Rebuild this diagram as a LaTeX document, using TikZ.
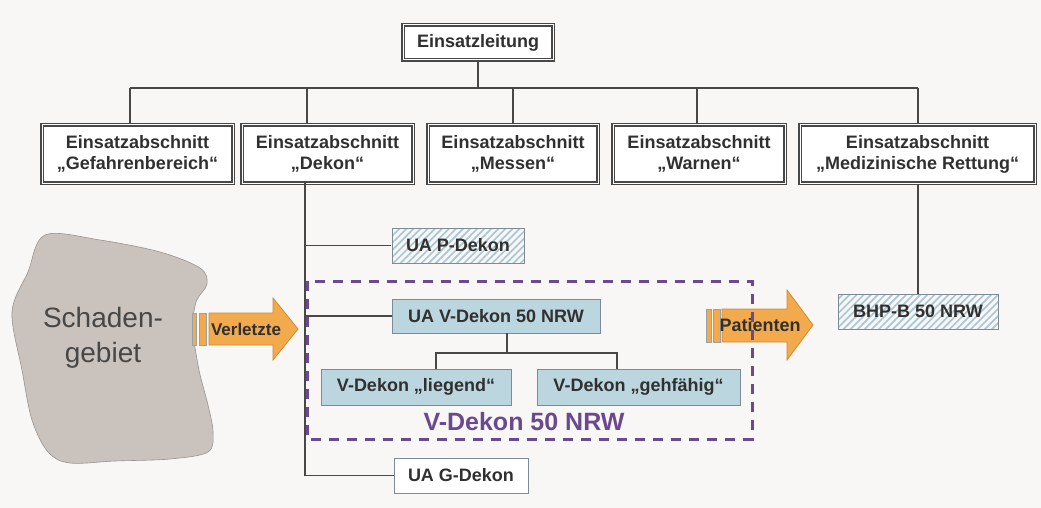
\documentclass[tikz,border=0pt]{standalone}
\usepackage{fontspec}
\setmainfont{Liberation Sans}
\usetikzlibrary{patterns.meta,shadows}
\definecolor{bg}{HTML}{F8F7F5}
\definecolor{boxline}{HTML}{484848}
\definecolor{txt}{HTML}{303030}
\definecolor{hatch}{HTML}{A9C7D5}
\definecolor{vfill}{HTML}{BCD6DF}
\definecolor{vline}{HTML}{7C8C94}
\definecolor{purp}{HTML}{6A4A8F}
\definecolor{orng}{HTML}{F3AA4C}
\definecolor{orngline}{HTML}{CF8A2E}
\definecolor{blobfill}{HTML}{C9C2BD}
\definecolor{blobline}{HTML}{9A938E}
\tikzset{
  boxfont/.style={font=\fontsize{18}{21}\selectfont\bfseries, text=txt, align=center},
  headbox/.style={boxfont, draw=boxline, double=white, double distance=1pt, line width=1.2pt,
    fill=white, inner sep=0pt, drop shadow={shadow xshift=2pt, shadow yshift=-2pt, fill=gray!50, opacity=0.7}},
  hatchbox/.style={boxfont, draw=vline, line width=0.8pt, inner sep=0pt,
    pattern={Lines[angle=45, distance=5pt, line width=1.7pt]}, pattern color=hatch},
  vbox/.style={boxfont, draw=vline, line width=0.8pt, fill=vfill, inner sep=0pt},
  plainbox/.style={boxfont, draw=vline, line width=0.8pt, fill=white, inner sep=0pt},
  link/.style={draw=boxline, line width=1.5pt},
  arrowbody/.style={fill=orng, draw=orngline, line width=0.8pt},
  tailbar/.style={fill=orng, draw=vline!80, line width=0.6pt},
  arrowtext/.style={font=\fontsize{17}{20}\selectfont\bfseries, text=txt},
}
\begin{document}
\begin{tikzpicture}[x=1pt, y=-1pt]
  % canvas
  \fill[bg] (0,0) rectangle (1041,508);
  \useasboundingbox (0,0) rectangle (1041,508);

  % damage area
  \draw[fill=blobfill, draw=blobline, line width=0.6pt]
    plot[smooth cycle, tension=0.55] coordinates {
      (45,235) (100,240) (160,252) (200,268) (207,284) (196,302) (193,330)
      (199,370) (208,405) (213,432) (208,452) (170,459) (115,461) (70,463)
      (48,452) (32,420) (22,370) (12,312) (28,272)};
  \node[font=\fontsize{28}{35}\selectfont, text=black!72, align=center] (sg) at (103,338) {Schaden-\\gebiet};

  % arrow "Verletzte"
  \draw[tailbar] (192,313) rectangle (196,345);
  \draw[tailbar] (199,313) rectangle (206,345);
  \draw[arrowbody] (209,313) -- (273,313) -- (273,298) -- (298,329) -- (273,360) -- (273,345) -- (209,345) -- cycle;
  \node[arrowtext] (verl) at (246,329) {Verletzte};

  % command level
  \node[headbox, minimum width=150pt, minimum height=35pt] (el) at (478,42.5) {Einsatzleitung};

  % sections
  \node[headbox, minimum width=191pt, minimum height=58pt] (gef) at (137.5,154) {Einsatzabschnitt\\„Gefahrenbereich“};
  \node[headbox, minimum width=171pt, minimum height=58pt] (dek) at (327.5,154) {Einsatzabschnitt\\„Dekon“};
  \node[headbox, minimum width=170pt, minimum height=58pt] (mes) at (513,154) {Einsatzabschnitt\\„Messen“};
  \node[headbox, minimum width=172pt, minimum height=58pt] (war) at (699,154) {Einsatzabschnitt\\„Warnen“};
  \node[headbox, minimum width=235pt, minimum height=58pt] (med) at (917.5,154) {Einsatzabschnitt\\„Medizinische Rettung“};

  % bus
  \coordinate (b1) at (130,88);
  \coordinate (b2) at (307,88);
  \coordinate (b3) at (513,88);
  \coordinate (b4) at (697,88);
  \coordinate (b5) at (918,88);
  \draw[link] (el.south) -- (el.south |- b1);
  \draw[link] (b1) -- (b5);
  \foreach \b/\n in {b1/gef, b2/dek, b3/mes, b4/war, b5/med}
    \draw[link] (\b) -- (\b |- \n.north);

  % sub-units of Dekon
  \node[hatchbox, minimum width=132pt, minimum height=35pt] (pd) at (458,245.5) {UA P-Dekon};
  \node[vbox, minimum width=208pt, minimum height=34pt] (vd) at (496,316) {UA V-Dekon 50 NRW};
  \node[vbox, minimum width=190pt, minimum height=36pt] (lg) at (416,387) {V-Dekon „liegend“};
  \node[vbox, minimum width=203pt, minimum height=36pt] (gh) at (638.5,387) {V-Dekon „gehfähig“};
  \node[plainbox, minimum width=134pt, minimum height=35pt] (gd) at (461,475.5) {UA G-Dekon};

  \coordinate (tk) at (305,183);
  \draw[link] (tk) |- (gd.west);
  \draw[link] (tk |- pd.west) -- (pd.west);
  \draw[link] (tk |- vd.west) -- (vd.west);

  \coordinate (sp) at (507,353);
  \coordinate (sl) at (436,353);
  \coordinate (sr) at (617,353);
  \draw[link] (vd.south -| sp) -- (sp);
  \draw[link] (sl |- lg.north) -- (sl) -- (sr) -- (sr |- gh.north);

  % medical unit
  \node[hatchbox, minimum width=160pt, minimum height=35pt] (bhp) at (918,311.5) {BHP-B 50 NRW};
  \draw[link] (med.south -| bhp.north) -- (bhp.north);

  % arrow "Patienten"
  \draw[tailbar] (706,309) rectangle (711,342);
  \draw[tailbar] (713,309) rectangle (720,342);
  \draw[arrowbody] (722,309) -- (787,309) -- (787,290) -- (813,325) -- (787,360) -- (787,342) -- (722,342) -- cycle;
  \node[arrowtext, font=\fontsize{18}{21}\selectfont\bfseries] (pat) at (760,325) {Patienten};

  % V-Dekon 50 NRW frame
  \draw[draw=purp, line width=3pt, dash pattern=on 10pt off 8pt] (307,281) rectangle (752,439);
  \node[font=\fontsize{25}{28}\selectfont\bfseries, text=purp] (vlabel) at (524,422) {V-Dekon 50 NRW};
\end{tikzpicture}
\end{document}
